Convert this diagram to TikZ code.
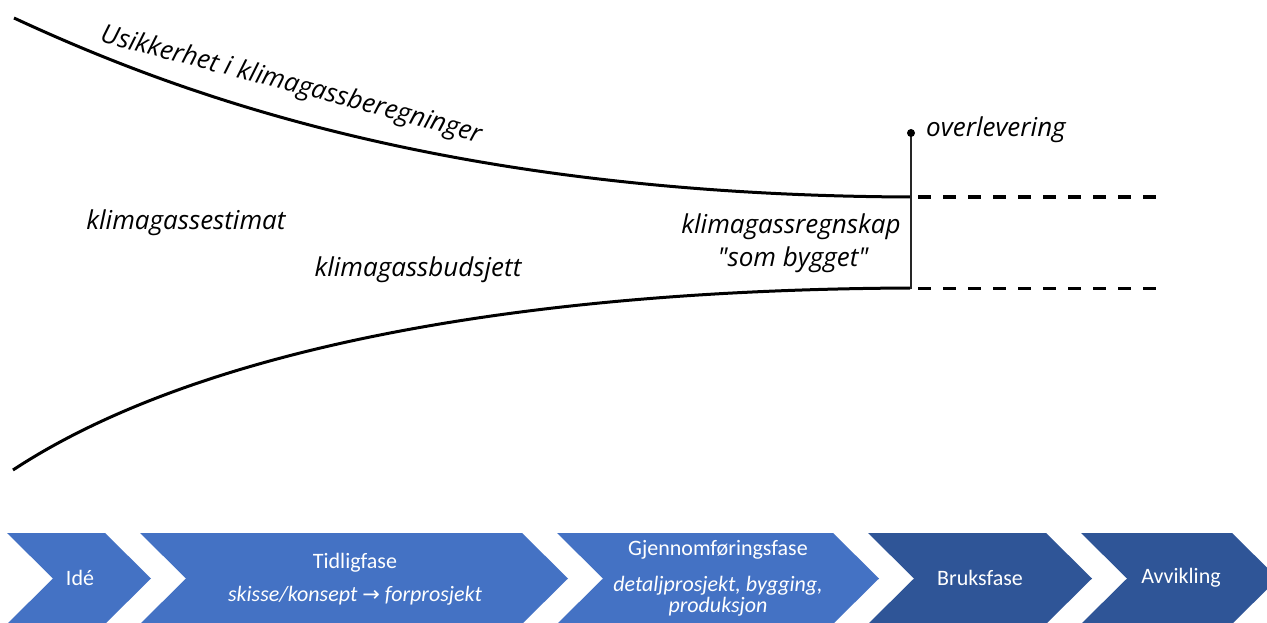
\documentclass[tikz,border=0pt]{standalone}
\usepackage{fontspec}
\newfontfamily\labfont{Open Sans}
\newfontfamily\chfont{Carlito}
\newfontfamily\djv{DejaVu Sans}
\usetikzlibrary{decorations.text}
\definecolor{lightblue}{HTML}{4472C4}
\definecolor{darkblue}{HTML}{2F5597}
\begin{document}
\begin{tikzpicture}[x=1pt,y=1pt,
  curve/.style={line width=3pt},
  dashline/.style={line width=3pt, dash pattern=on 13pt off 12pt},
  lab/.style={font=\labfont\fontsize{26}{30}\selectfont\itshape, inner sep=0pt},
  chevlight/.style={fill=lightblue},
  chevdark/.style={fill=darkblue},
  chtext/.style={font=\chfont\fontsize{22}{26}\selectfont, text=white, inner sep=0pt, align=center},
  chsub/.style={chtext, font=\chfont\fontsize{22}{26}\selectfont\itshape},
]
\useasboundingbox (0,0) rectangle (1267,-623);
\clip (0,0) rectangle (1267,-623);
% curves
\draw[curve] (14,-18) .. controls (180,-95) and (450,-195) .. (910,-197);
\draw[curve] (13,-470) .. controls (180,-360) and (480,-290) .. (910,-288);
\path[decorate, decoration={text along path, text align=center,
  text={|\labfont\fontsize{26}{30}\selectfont\itshape|Usikkerhet i klimagassberegninger}}]
  (92,-40) .. controls (200,-68) and (380,-114) .. (486,-145);
% handover
\coordinate (dot) at (911,-133);
\coordinate (vend) at (911,-289);
\draw[line width=1.2pt, black!85] (dot) -- (vend);
\fill (dot) circle (4);
\node[lab, anchor=west] (ovl) at (926,-130) {overlevering};
\draw[dashline] (918,-197) -- (1160,-197);
\draw[dashline] (918,-288) -- (1160,-288);
% labels
\node[lab] (est) at (186,-223) {klimagassestimat};
\node[lab] (bud) at (418,-270) {klimagassbudsjett};
\node[lab] (regn) at (791,-227) {klimagassregnskap};
\node[lab] (bygget) at (793,-260) {"som bygget"};
% chevrons
\fill[chevlight] (7,-533) -- (105,-533) -- (151,-578.5) -- (105,-624) -- (7,-624) -- (53,-578.5) -- cycle;
\fill[chevlight] (140,-533) -- (522,-533) -- (568,-578.5) -- (522,-624) -- (140,-624) -- (186,-578.5) -- cycle;
\fill[chevlight] (557,-533) -- (833,-533) -- (879,-578.5) -- (833,-624) -- (557,-624) -- (603,-578.5) -- cycle;
\fill[chevdark] (868,-533) -- (1046,-533) -- (1092,-578.5) -- (1046,-624) -- (868,-624) -- (914,-578.5) -- cycle;
\fill[chevdark] (1081,-533) -- (1232,-533) -- (1278,-578.5) -- (1232,-624) -- (1081,-624) -- (1127,-578.5) -- cycle;
\node[chtext] (ide) at (80,-578) {Idé};
\node[chtext] (tidlig) at (355,-563) {Tidligfase};
\node[chsub] (tidligsub) at (355,-596) {skisse/konsept {\djv\upshape\fontsize{21}{24}\selectfont →} forprosjekt};
\node[chtext] (gjen) at (718,-550) {Gjennomføringsfase};
\node[chsub] (gjensub1) at (718,-586) {detaljprosjekt, bygging,};
\node[chsub] (gjensub2) at (718,-607) {produksjon};
\node[chtext] (bruk) at (980,-578) {Bruksfase};
\node[chtext] (avv) at (1181,-578) {Avvikling};
\end{tikzpicture}
\end{document}
